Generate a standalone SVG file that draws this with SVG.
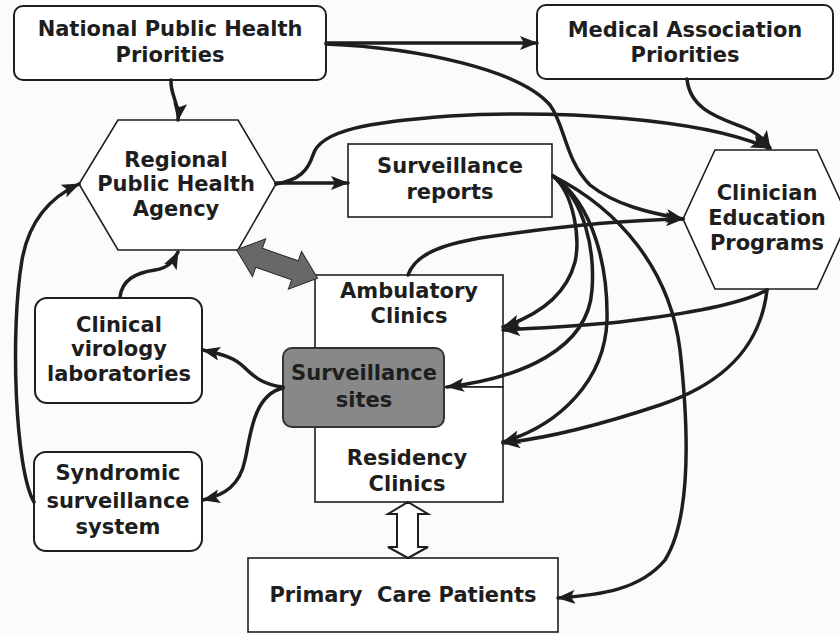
<svg xmlns="http://www.w3.org/2000/svg" width="840" height="634" viewBox="0 0 840 634">
<style>
.bg{fill:#fbfbfb}
.rb{fill:#fff;stroke:#1e1e1e;stroke-width:2}
.sq{fill:#fff;stroke:#1e1e1e;stroke-width:1.6}
.hx{fill:#fff;stroke:#1e1e1e;stroke-width:1.6}
.t{font-family:"DejaVu Sans",Verdana,sans-serif;font-weight:bold;font-size:21px;fill:#1e1e1e;text-anchor:middle}
.c{fill:none;stroke:#1e1e1e;stroke-width:3.5;stroke-linecap:round}
.big{fill:#686868;stroke:#2a2a2a;stroke-width:1}
.hol{fill:#fff;stroke:#1e1e1e;stroke-width:2}
</style>
<defs>
<marker id="ah" viewBox="0 0 18 14" refX="17" refY="7" markerWidth="18" markerHeight="14" orient="auto" markerUnits="userSpaceOnUse">
<path d="M0,0 L18,7 L0,14 L4,7 z" fill="#1e1e1e"/>
</marker>
</defs>
<rect class="bg" x="0" y="0" width="840" height="634"/>

<g id="national">
<rect class="rb" x="14" y="6" width="312" height="74" rx="9"/>
<text class="t" x="170" y="36">National Public Health</text>
<text class="t" x="170" y="62">Priorities</text>
</g>

<g id="medical">
<rect class="rb" x="537" y="5" width="296" height="74" rx="9"/>
<text class="t" x="685" y="37">Medical Association</text>
<text class="t" x="685" y="62">Priorities</text>
</g>

<g id="regional">
<polygon class="hx" points="118,120 238,120 276,184 238,250 118,250 79,184"/>
<text class="t" x="176" y="167">Regional</text>
<text class="t" x="176" y="191">Public Health</text>
<text class="t" x="176" y="216">Agency</text>
</g>

<g id="reports">
<rect class="sq" x="348" y="144" width="204" height="73"/>
<text class="t" x="450" y="173">Surveillance</text>
<text class="t" x="450" y="199">reports</text>
</g>

<g id="clinician">
<polygon class="hx" points="715,150 817,150 849,219 817,289 715,289 683,219"/>
<text class="t" x="767" y="200">Clinician</text>
<text class="t" x="767" y="225">Education</text>
<text class="t" x="767" y="250">Programs</text>
</g>

<g id="ambulatory">
<rect class="sq" x="315" y="275" width="188" height="112"/>
<text class="t" x="409" y="298">Ambulatory</text>
<text class="t" x="409" y="323">Clinics</text>
</g>

<g id="residency">
<rect class="sq" x="315" y="387" width="188" height="115"/>
<text class="t" x="407" y="465">Residency</text>
<text class="t" x="407" y="491">Clinics</text>
</g>

<g id="sites">
<rect x="283" y="348" width="161" height="79" rx="9" fill="#888" stroke="#333" stroke-width="2"/>
<text class="t" x="364" y="380">Surveillance</text>
<text class="t" x="364" y="407">sites</text>
</g>

<g id="virology">
<rect class="rb" x="35" y="298" width="167" height="105" rx="12"/>
<text class="t" x="119" y="332">Clinical</text>
<text class="t" x="119" y="356">virology</text>
<text class="t" x="119" y="381">laboratories</text>
</g>

<g id="syndromic">
<rect class="rb" x="34" y="452" width="168" height="99" rx="12"/>
<text class="t" x="118" y="480">Syndromic</text>
<text class="t" x="118" y="508">surveillance</text>
<text class="t" x="118" y="534">system</text>
</g>

<g id="primary">
<rect class="sq" x="248" y="558" width="310" height="74"/>
<text class="t" x="403" y="602" xml:space="preserve">Primary  Care Patients</text>
</g>

<g id="connectors">
<path class="c" d="M326,43 L537,43" marker-end="url(#ah)"/>
<path class="c" d="M171,80 C 170,95 180,105 178,120" marker-end="url(#ah)"/>
<path class="c" d="M326,44 C 420,48 520,70 550,105 C 565,125 565,160 590,185 C 615,205 650,213 683,219" marker-end="url(#ah)"/>
<path class="c" d="M687,79 C 690,110 720,118 745,128 C 758,133 765,140 770,148" marker-end="url(#ah)"/>
<path class="c" d="M276,184 C 300,180 308,170 313,155 C 320,130 370,122 450,116 C 560,110 700,118 768,148" marker-end="url(#ah)"/>
<path class="c" d="M276,183 L348,183" marker-end="url(#ah)"/>
<path class="c" d="M408,275 C 415,255 440,245 480,238 C 560,226 620,220 683,219" marker-end="url(#ah)"/>
<path class="c" d="M553,176 C 575,195 580,240 575,262 C 565,300 530,318 503,327" marker-end="url(#ah)"/>
<path class="c" d="M553,176 C 585,200 595,250 592,290 C 588,350 520,378 447,387" marker-end="url(#ah)"/>
<path class="c" d="M553,176 C 595,205 608,270 607,320 C 605,380 560,425 503,442" marker-end="url(#ah)"/>
<path class="c" d="M553,176 C 620,210 670,270 680,350 C 690,440 690,520 665,560 C 640,590 600,595 558,598" marker-end="url(#ah)"/>
<path class="c" d="M767,290 C 740,305 680,315 620,322 C 580,326 540,328 503,330" marker-end="url(#ah)"/>
<path class="c" d="M767,290 C 760,350 720,385 660,405 C 600,425 550,438 503,443" marker-end="url(#ah)"/>
<path class="c" d="M283,387 C 265,385 255,378 245,368 C 235,358 225,355 203,350" marker-end="url(#ah)"/>
<path class="c" d="M283,388 C 252,395 250,440 245,460 C 240,485 225,495 203,500" marker-end="url(#ah)"/>
<path class="c" d="M120,297 C 122,280 135,273 155,270 C 168,268 173,262 178,252" marker-end="url(#ah)"/>
<path class="c" d="M34,502 C 15,470 10,330 22,260 C 30,215 55,195 79,184" marker-end="url(#ah)"/>
<polygon class="big" transform="translate(277,264) rotate(19.3)" points="-43,0 -19,-20 -19,-10 19,-10 19,-20 43,0 19,20 19,10 -19,10 -19,20"/>
<polygon class="hol" points="408,502 428,514 418,514 418,547 428,547 408,558 388,547 397,547 397,514 388,514"/>
</g>
</svg>
